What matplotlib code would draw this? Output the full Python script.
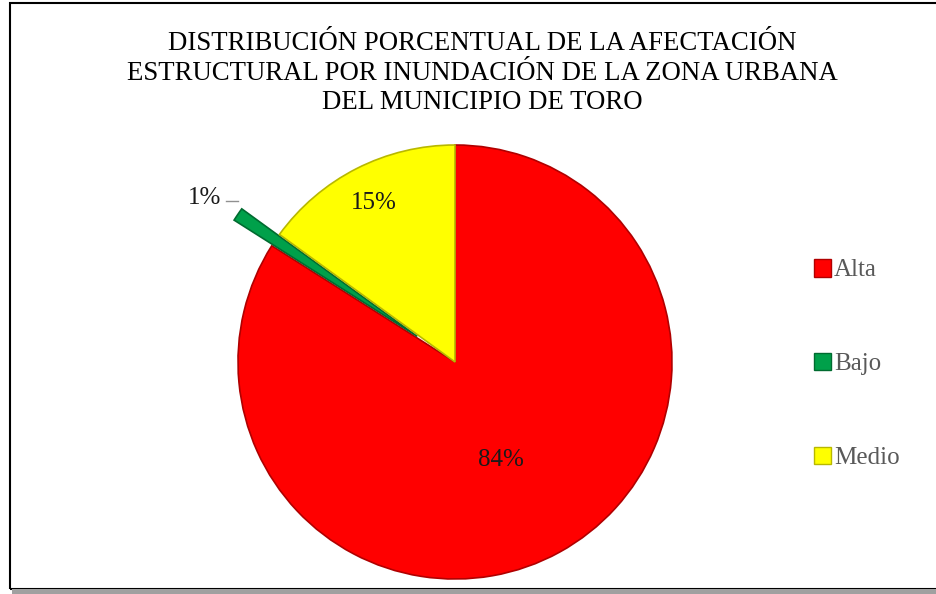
import matplotlib.pyplot as plt
import matplotlib.patches as mpatches
import numpy as np

# datos del grafico
categorias = ["Alta", "Bajo", "Medio"]
porcentajes = [84, 1, 15]
colores = ["#FF0000", "#00A04A", "#FFFF00"]
bordes = ["#B00000", "#006B30", "#B8B800"]
separacion = [0, 0.21, 0]

titulo = ("DISTRIBUCIÓN PORCENTUAL DE LA AFECTACIÓN\n"
          "ESTRUCTURAL POR INUNDACIÓN DE LA ZONA URBANA\n"
          "DEL MUNICIPIO DE TORO")

plt.rcParams["font.family"] = ["Liberation Serif", "DejaVu Serif"]

W, H = 937, 594
fig = plt.figure(figsize=(W / 100, H / 100), dpi=100)

# marco del grafico con sombra abajo
fig.patches.append(mpatches.Rectangle((10 / W, 1 - 589 / H), 940 / W, 586 / H,
                                      transform=fig.transFigure, fill=False,
                                      edgecolor="black", linewidth=1.5))
fig.patches.append(mpatches.Rectangle((12 / W, 1 - 594 / H), 940 / W, 5 / H,
                                      transform=fig.transFigure,
                                      facecolor="#A0A0A0", edgecolor="none"))

# area del pie: centro (455,362) px, radio 217 px
cx, cy, r = 455, 362, 217
lim = 1.3
ax = fig.add_axes([(cx - lim * r) / W, (H - cy - lim * r) / H,
                   2 * lim * r / W, 2 * lim * r / H])
wedges, _ = ax.pie(porcentajes, colors=colores, startangle=90, counterclock=False,
                   explode=separacion, radius=1,
                   wedgeprops=dict(linewidth=1.2))
for w, b in zip(wedges, bordes):
    w.set_edgecolor(b)
ax.set_xlim(-lim, lim)
ax.set_ylim(-lim, lim)
ax.set_aspect("equal")
ax.axis("off")

# etiquetas de porcentaje (distancia y giro por porcion)
dist = [0.5, 1.38, 0.82]
giro = [-4, 1, 0]
for w, p, d, g in zip(wedges, porcentajes, dist, giro):
    ang = np.deg2rad((w.theta1 + w.theta2) / 2 + g)
    x, y = d * np.cos(ang), d * np.sin(ang)
    ax.text(x, y, f"{p}%", ha="center", va="center", fontsize=18, color="#1A1A1A")
    if p == 1:
        ax.plot([x + 0.10, x + 0.155], [y - 0.012, y - 0.012], color="#909090", lw=1)

fig.text(482 / W, 1 - 73 / H, titulo, ha="center", va="center", fontsize=19.3,
         linespacing=1.25, color="black")

handles = [mpatches.Patch(facecolor=c, edgecolor=b, linewidth=1)
           for c, b in zip(colores, bordes)]
fig.legend(handles, categorias, loc="center left",
           bbox_to_anchor=(814 / W, 1 - 364 / H), frameon=False,
           fontsize=18, labelcolor="#595959", labelspacing=2.85,
           handlelength=0.7, handleheight=0.7, handletextpad=0.1,
           borderpad=0, borderaxespad=0)

fig.savefig("out.png", dpi=100)
